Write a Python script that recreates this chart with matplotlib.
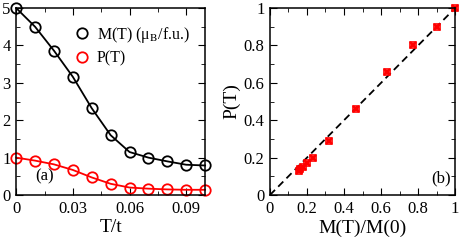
import numpy as np
from matplotlib import pyplot as plt
from matplotlib.ticker import MultipleLocator

plt.rcParams['font.family'] = ['Liberation Serif', 'DejaVu Serif']
plt.rcParams['mathtext.fontset'] = 'stix'

# panel (a)
temps = [0.0, 0.01, 0.02, 0.03, 0.04, 0.05, 0.06, 0.07, 0.08, 0.09, 0.1]
mag = [5.0, 4.5, 3.86, 3.16, 2.32, 1.6, 1.15, 1.0, 0.9, 0.81, 0.79]
pol = [1.0, 0.92, 0.82, 0.67, 0.47, 0.3, 0.2, 0.17, 0.15, 0.14, 0.14]

# panel (b)
m_ratio = [1.0, 0.9, 0.772, 0.632, 0.464, 0.32, 0.23, 0.2, 0.18, 0.162, 0.158]
p_ratio = [1.0, 0.9, 0.8, 0.66, 0.46, 0.29, 0.2, 0.17, 0.15, 0.14, 0.13]

fig = plt.figure(figsize=(4.63, 2.45), dpi=100)
ax1 = fig.add_axes([0.035, 0.204, 0.408, 0.763])
ax2 = fig.add_axes([0.583, 0.204, 0.400, 0.763])


def style_axes(ax):
    ax.tick_params(which='both', direction='in', top=True, right=True,
                   labelsize=12, pad=4)
    ax.tick_params(which='major', length=5)
    ax.tick_params(which='minor', length=3)
    for s in ax.spines.values():
        s.set_linewidth(1.1)


ax1.plot(temps, mag, color='black', lw=1.3, marker='o', ms=7.5, mfc='none',
         mew=1.3, clip_on=False, label='M(T) (μ$_\\mathrm{B}$/f.u.)')
ax1.plot(temps, pol, color='red', lw=1.3, marker='o', ms=7.5, mfc='none',
         mew=1.3, clip_on=False, label='P(T)')
ax1.set_xlim(0, 0.1)
ax1.set_ylim(0, 5)
ax1.xaxis.set_minor_locator(MultipleLocator(0.015))
ax1.yaxis.set_major_locator(MultipleLocator(1))
ax1.yaxis.set_minor_locator(MultipleLocator(0.5))
ax1.set_xticks([0, 0.03, 0.06, 0.09])
ax1.set_xticklabels(['0', '0.03', '0.06', '0.09'])
ax1.set_xlabel('T/t', fontsize=14, labelpad=2)
style_axes(ax1)
leg = ax1.legend(loc='upper right', bbox_to_anchor=(0.98, 0.97), frameon=False,
                 fontsize=11.5, handlelength=0.6, handletextpad=0.6,
                 borderaxespad=0.3, labelspacing=0.35)
for h in leg.legend_handles:
    h.set_linestyle('none')
ax1.text(0.1, 0.08, '(a)', transform=ax1.transAxes, fontsize=12)

ax2.plot([0, 1], [0, 1], color='black', lw=1.3, ls=(0, (4, 2.5)))
ax2.plot(m_ratio, p_ratio, ls='none', marker='s', ms=5, mfc='none',
         mec='red', mew=1.2, clip_on=False)
ax2.plot(m_ratio, p_ratio, ls='none', marker='x', ms=5, color='red',
         mew=1.6, clip_on=False)
ax2.set_xlim(0, 1)
ax2.set_ylim(0, 1)
ax2.xaxis.set_minor_locator(MultipleLocator(0.1))
ax2.yaxis.set_minor_locator(MultipleLocator(0.1))
ax2.set_xticks([0, 0.2, 0.4, 0.6, 0.8, 1.0])
ax2.set_xticklabels(['0', '0.2', '0.4', '0.6', '0.8', '1'])
ax2.set_yticks([0, 0.2, 0.4, 0.6, 0.8, 1.0])
ax2.set_yticklabels(['0', '0.2', '0.4', '0.6', '0.8', '1'])
ax2.set_xlabel('M(T)/M(0)', fontsize=14, labelpad=2)
ax2.set_ylabel('P(T)', fontsize=14, labelpad=2)
style_axes(ax2)
ax2.text(0.87, 0.07, '(b)', transform=ax2.transAxes, fontsize=12)

fig.savefig('out.png', dpi=100)
